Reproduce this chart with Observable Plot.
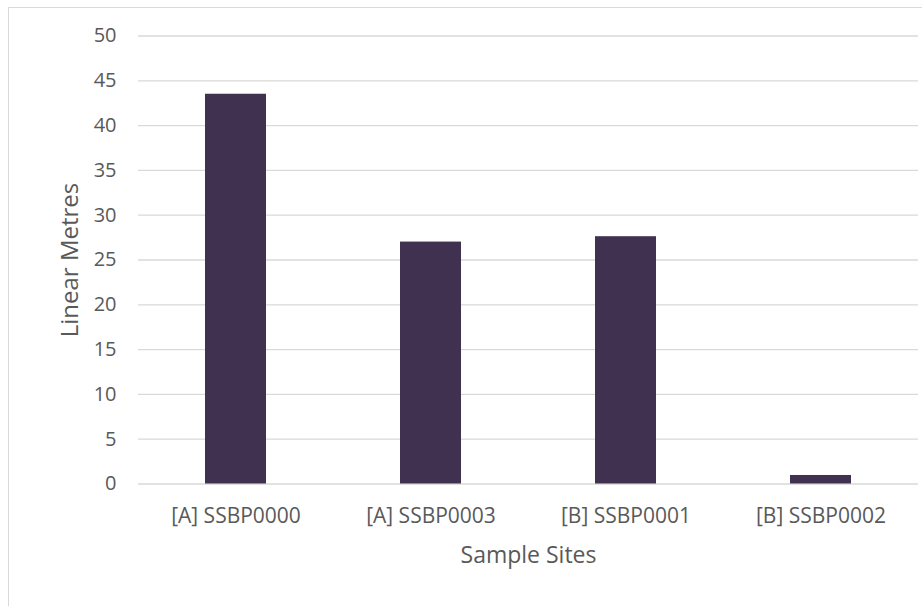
<!DOCTYPE html>
<html>
<head>
<meta charset="utf-8">
<script src="https://cdn.jsdelivr.net/npm/d3@7"></script>
<script src="https://cdn.jsdelivr.net/npm/@observablehq/plot@0.6"></script>
<style>
  html, body { margin: 0; padding: 0; background: #fff; overflow: hidden; }
  #wrap { position: relative; width: 922px; height: 606px; }
  #frame { position: absolute; left: 8px; top: 7px; width: 1000px; height: 1000px; border: 1px solid #d9d9d9; box-sizing: border-box; }
  #chart { position: absolute; left: 0; top: 0; }
</style>
</head>
<body>
<div id="wrap"><div id="frame"></div><div id="chart"></div></div>
<script>
const sites = ["[A] SSBP0000", "[A] SSBP0003", "[B] SSBP0001", "[B] SSBP0002"];
const metres = [43.5, 27, 27.6, 0.95];
const yTicks = [0, 5, 10, 15, 20, 25, 30, 35, 40, 45, 50];

const data = sites.map((s, i) => ({site: s, value: metres[i]}));

const chart = Plot.plot({
  width: 922,
  height: 606,
  marginLeft: 138,
  marginRight: 4,
  marginTop: 35.5,
  marginBottom: 122.5,
  style: {fontFamily: "'Open Sans', sans-serif", fontSize: "21px", color: "#595959", background: "transparent"},
  x: {domain: sites, paddingInner: 0.687, paddingOuter: 0.3435, label: null},
  y: {domain: [0, 50], label: null},
  marks: [
    Plot.ruleY(yTicks, {stroke: "#d9d9d9", strokeWidth: 1.3}),
    Plot.barY(data, {x: "site", y: "value", fill: "#403151"}),
    Plot.axisY({ticks: yTicks, tickSize: 0, tickPadding: 22, label: null, fontSize: 20}),
    Plot.axisX({tickSize: 0, tickPadding: 24, label: null, fontSize: 21}),
    Plot.text(["Sample Sites"], {frameAnchor: "bottom", textAnchor: "middle", lineAnchor: "middle", dy: 71.5, fontSize: 23, fill: "#595959"}),
    Plot.text(["Linear Metres"], {frameAnchor: "left", textAnchor: "middle", lineAnchor: "middle", dx: -68, rotate: -90, fontSize: 24, fill: "#595959"})
  ]
});
document.getElementById("chart").appendChild(chart);
</script>
</body>
</html>
